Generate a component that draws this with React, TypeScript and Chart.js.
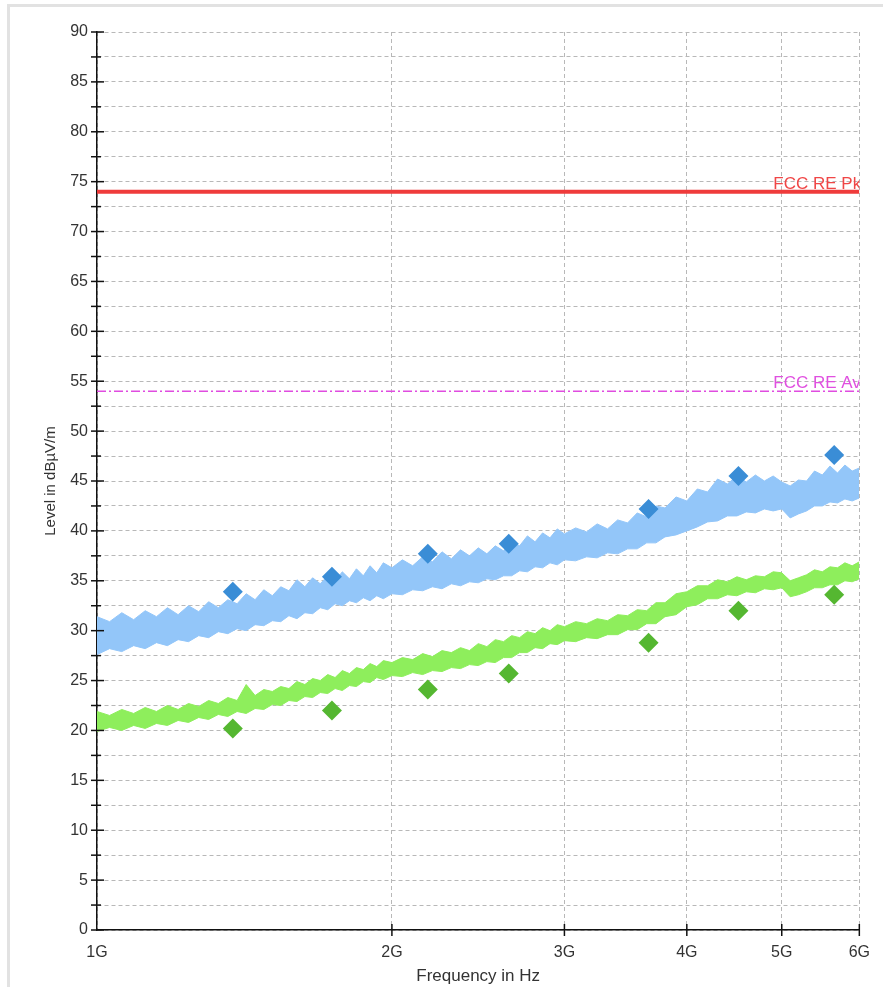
import React, { useEffect, useRef } from 'react';
import { Chart, registerables } from 'chart.js';

Chart.register(...registerables);

// Sweep frequencies (GHz)
const freqGHz = [
  1.00, 1.03, 1.06, 1.09, 1.12, 1.15, 1.18, 1.21, 1.24, 1.27,
  1.30, 1.33, 1.36, 1.39, 1.42, 1.45, 1.48, 1.51, 1.54, 1.57,
  1.60, 1.63, 1.66, 1.69, 1.72, 1.75, 1.78, 1.81, 1.84, 1.87,
  1.90, 1.93, 1.96, 2.00, 2.05, 2.10, 2.15, 2.20, 2.25, 2.30,
  2.35, 2.40, 2.45, 2.50, 2.55, 2.60, 2.65, 2.70, 2.75, 2.80,
  2.85, 2.90, 2.95, 3.00, 3.08, 3.16, 3.24, 3.32, 3.40, 3.48,
  3.56, 3.64, 3.72, 3.80, 3.90, 4.00, 4.10, 4.20, 4.30, 4.40,
  4.50, 4.60, 4.70, 4.80, 4.90, 5.00, 5.10, 5.20, 5.30, 5.40,
  5.50, 5.60, 5.70, 5.80, 5.90, 6.00,
];

// Peak trace (blue) envelope, dBµV/m
const blueUpper = [
  31.4, 30.9, 31.8, 31.1, 32.0, 31.4, 32.3, 31.6, 32.5, 31.9,
  32.9, 32.3, 33.1, 32.7, 33.7, 33.1, 34.1, 33.5, 34.4, 34.0,
  35.1, 34.4, 35.3, 34.7, 35.5, 35.0, 35.9, 35.2, 36.2, 35.5,
  36.5, 35.8, 36.8, 36.3, 37.1, 36.5, 37.4, 36.9, 37.9, 37.2,
  38.1, 37.5, 38.3, 37.7, 38.5, 38.0, 38.9, 38.5, 39.5, 38.9,
  39.8, 39.3, 40.2, 39.7, 40.3, 39.9, 40.7, 40.2, 41.1, 40.8,
  41.8, 41.4, 42.5, 42.3, 43.4, 43.0, 44.2, 43.9, 45.2, 44.7,
  45.5, 44.9, 45.6, 45.0, 45.5, 44.9, 44.5, 45.1, 45.0, 46.0,
  45.6, 46.5, 45.8, 46.6, 46.0, 46.3,
];
const blueLower = [
  27.6, 28.2, 27.9, 28.5, 28.2, 28.8, 28.5, 29.1, 28.9, 29.5,
  29.3, 29.9, 29.7, 30.2, 30.0, 30.6, 30.5, 31.0, 30.9, 31.5,
  31.2, 31.8, 31.7, 32.3, 32.1, 32.7, 32.5, 33.0, 32.8, 33.3,
  33.0, 33.5, 33.2, 33.7, 33.6, 34.1, 34.0, 34.4, 34.2, 34.7,
  34.5, 34.9, 34.8, 35.2, 35.1, 35.5, 35.5, 36.0, 35.9, 36.4,
  36.3, 36.8, 36.6, 37.1, 37.0, 37.4, 37.3, 37.8, 37.7, 38.2,
  38.2, 38.8, 38.8, 39.4, 39.6, 40.0, 40.4, 40.9, 41.0, 41.5,
  41.5, 41.9, 41.8, 42.2, 42.0, 42.2, 41.3, 41.7, 42.0, 42.5,
  42.5, 42.9, 42.8, 43.2, 43.0, 43.3,
];

// Average trace (green) envelope, dBµV/m
const greenUpper = [
  21.9, 21.5, 22.1, 21.7, 22.3, 21.9, 22.5, 22.1, 22.7, 22.4,
  23.0, 22.7, 23.3, 23.0, 24.6, 23.5, 24.1, 23.9, 24.4, 24.2,
  24.9, 24.6, 25.2, 25.0, 25.6, 25.3, 26.0, 25.7, 26.3, 26.1,
  26.7, 26.4, 27.0, 26.8, 27.3, 27.1, 27.7, 27.4, 28.0, 27.8,
  28.3, 28.0, 28.7, 28.4, 29.1, 28.9, 29.5, 29.3, 29.9, 29.7,
  30.3, 30.0, 30.6, 30.4, 30.9, 30.7, 31.2, 31.0, 31.6, 31.5,
  32.1, 32.0, 32.8, 32.8, 33.7, 33.9, 34.5, 34.5, 35.1, 34.9,
  35.4, 35.1, 35.5, 35.4, 35.9, 35.8, 35.0, 35.3, 35.6, 36.1,
  35.9, 36.4, 36.3, 36.8, 36.5, 36.9,
];
const greenLower = [
  19.9, 20.3, 20.0, 20.5, 20.2, 20.7, 20.5, 21.0, 20.8, 21.3,
  21.1, 21.6, 21.4, 21.9, 21.7, 22.2, 22.1, 22.6, 22.5, 23.0,
  22.9, 23.4, 23.3, 23.8, 23.7, 24.2, 24.0, 24.5, 24.4, 24.9,
  24.8, 25.3, 25.1, 25.5, 25.4, 25.8, 25.6, 26.0, 25.9, 26.3,
  26.2, 26.6, 26.5, 26.9, 26.8, 27.3, 27.3, 27.8, 27.8, 28.3,
  28.2, 28.7, 28.6, 29.0, 28.9, 29.3, 29.2, 29.6, 29.6, 30.1,
  30.1, 30.7, 30.7, 31.4, 31.6, 32.4, 32.6, 33.2, 33.2, 33.6,
  33.5, 33.9, 33.8, 34.2, 34.1, 34.3, 33.4, 33.6, 33.9, 34.3,
  34.3, 34.6, 34.6, 35.0, 34.9, 35.2,
];

// Final measurement points
const markerFreqGHz = [1.376, 1.737, 2.176, 2.632, 3.656, 4.516, 5.656];
const peakLevels = [33.9, 35.4, 37.7, 38.7, 42.2, 45.5, 47.6];
const avgLevels = [20.2, 22.0, 24.1, 25.7, 28.8, 32.0, 33.6];

// Limits
const limitPk = 74;
const limitAv = 54;
const limitPkLabel = 'FCC RE Pk';
const limitAvLabel = 'FCC RE Av';

// Axes
const xTickGHz = [1, 2, 3, 4, 5, 6];
const yMin = 0;
const yMax = 90;
const yStep = 2.5;

const FONT = '"Liberation Sans", Arial, Helvetica, sans-serif';
const BLUE_TRACE = '#93c6f9';
const GREEN_TRACE = '#8eee5c';
const BLUE_MARK = '#3a8dd6';
const GREEN_MARK = '#55b731';

const decorPlugin = {
  id: 'decor',
  beforeDraw(chart: any) {
    const { ctx, width, height } = chart;
    ctx.save();
    ctx.fillStyle = '#ffffff';
    ctx.fillRect(0, 0, width, height);
    ctx.strokeStyle = '#e2e2e2';
    ctx.lineWidth = 3;
    ctx.beginPath();
    ctx.moveTo(8.5, height);
    ctx.lineTo(8.5, 5.5);
    ctx.lineTo(width, 5.5);
    ctx.stroke();
    ctx.restore();
  },
  afterDraw(chart: any) {
    const { ctx, chartArea: a, scales } = chart;
    const xs = scales.x;
    const ys = scales.y;
    ctx.save();
    ctx.strokeStyle = '#111';
    ctx.lineWidth = 1.5;
    ys.ticks.forEach((t: any) => {
      const py = ys.getPixelForValue(t.value);
      const major = Math.abs(t.value % 5) < 1e-6;
      ctx.beginPath();
      ctx.moveTo(a.left - 6, py);
      ctx.lineTo(a.left + (major ? 7 : 4), py);
      ctx.stroke();
    });
    xs.ticks.forEach((t: any) => {
      if (t.value <= xs.min) return;
      const px = xs.getPixelForValue(t.value);
      ctx.beginPath();
      ctx.moveTo(px, a.bottom - 6);
      ctx.lineTo(px, a.bottom + 6);
      ctx.stroke();
    });
    ctx.beginPath();
    ctx.rect(a.left, a.top - 30, a.right - a.left, a.bottom - a.top + 30);
    ctx.clip();
    ctx.font = '17px ' + FONT;
    ctx.textAlign = 'left';
    ctx.textBaseline = 'alphabetic';
    ctx.fillStyle = '#f04646';
    ctx.fillText(limitPkLabel, a.right - 86, ys.getPixelForValue(limitPk) - 3);
    ctx.fillStyle = '#e050e0';
    ctx.fillText(limitAvLabel, a.right - 86, ys.getPixelForValue(limitAv) - 3);
    ctx.restore();
  },
};

export default function App() {
  const ref = useRef<HTMLCanvasElement>(null);

  useEffect(() => {
    if (!ref.current) return;
    const pts = (ys: number[]) => freqGHz.map((f, i) => ({ x: f * 1e9, y: ys[i] }));
    const marks = (ys: number[]) => markerFreqGHz.map((f, i) => ({ x: f * 1e9, y: ys[i] }));
    const span = (v: number) => [
      { x: xTickGHz[0] * 1e9, y: v },
      { x: xTickGHz[xTickGHz.length - 1] * 1e9, y: v },
    ];

    const chart = new Chart(ref.current, {
      type: 'line',
      data: {
        datasets: [
          {
            label: 'Peak markers',
            data: marks(peakLevels),
            showLine: false,
            pointStyle: 'rectRot',
            pointRadius: 10,
            backgroundColor: BLUE_MARK,
            borderColor: BLUE_MARK,
            borderWidth: 0,
          },
          {
            label: 'Average markers',
            data: marks(avgLevels),
            showLine: false,
            pointStyle: 'rectRot',
            pointRadius: 10,
            backgroundColor: GREEN_MARK,
            borderColor: GREEN_MARK,
            borderWidth: 0,
          },
          {
            label: limitPkLabel,
            data: span(limitPk),
            borderColor: '#ef3b3b',
            borderWidth: 4,
            pointRadius: 0,
          },
          {
            label: limitAvLabel,
            data: span(limitAv),
            borderColor: '#e04ce0',
            borderWidth: 1.5,
            borderDash: [9, 3, 2, 3],
            pointRadius: 0,
          },
          {
            label: 'Peak trace low',
            data: pts(blueLower),
            borderColor: BLUE_TRACE,
            borderWidth: 1,
            pointRadius: 0,
            fill: false,
          },
          {
            label: 'Peak trace high',
            data: pts(blueUpper),
            borderColor: BLUE_TRACE,
            backgroundColor: BLUE_TRACE,
            borderWidth: 1,
            pointRadius: 0,
            fill: '-1',
          },
          {
            label: 'Average trace low',
            data: pts(greenLower),
            borderColor: GREEN_TRACE,
            borderWidth: 1,
            pointRadius: 0,
            fill: false,
          },
          {
            label: 'Average trace high',
            data: pts(greenUpper),
            borderColor: GREEN_TRACE,
            backgroundColor: GREEN_TRACE,
            borderWidth: 1,
            pointRadius: 0,
            fill: '-1',
          },
        ],
      },
      options: {
        responsive: false,
        maintainAspectRatio: false,
        devicePixelRatio: 1,
        animation: false,
        layout: { padding: { left: 0, top: 32, right: 22, bottom: 0 } },
        elements: { line: { tension: 0 } },
        plugins: {
          legend: { display: false },
          tooltip: { enabled: false },
        },
        scales: {
          x: {
            type: 'logarithmic',
            min: xTickGHz[0] * 1e9,
            max: xTickGHz[xTickGHz.length - 1] * 1e9,
            afterFit: (s: any) => {
              s.height = 57;
            },
            afterBuildTicks: (s: any) => {
              s.ticks = xTickGHz.map((g) => ({ value: g * 1e9 }));
            },
            ticks: {
              autoSkip: false,
              maxRotation: 0,
              minRotation: 0,
              padding: 13,
              color: '#333',
              font: { size: 16, family: FONT },
              callback: (v: any) => Math.round(Number(v) / 1e9) + 'G',
            },
            grid: { color: '#b8b8b8', lineWidth: 1, drawTicks: false },
            border: { display: true, color: '#111', width: 1.5, dash: [4, 3] },
            title: {
              display: true,
              text: 'Frequency in Hz',
              color: '#333',
              font: { size: 17, family: FONT },
              padding: { top: 0, bottom: 0 },
            },
          },
          y: {
            type: 'linear',
            min: yMin,
            max: yMax,
            afterFit: (s: any) => {
              s.width = 97;
            },
            ticks: {
              stepSize: yStep,
              autoSkip: false,
              padding: 9,
              color: '#333',
              font: { size: 16, family: FONT },
              callback: (v: any) => (Math.abs(Number(v) % 5) < 1e-6 ? String(v) : ''),
            },
            grid: { color: '#b8b8b8', lineWidth: 1, drawTicks: false },
            border: { display: true, color: '#111', width: 1.5, dash: [4, 3] },
            title: {
              display: true,
              text: 'Level in dBµV/m',
              color: '#333',
              font: { size: 15, family: FONT },
              padding: { top: 41.5, bottom: 0 },
            },
          },
        },
      } as any,
      plugins: [decorPlugin],
    });

    return () => chart.destroy();
  }, []);

  return (
    <div style={{ position: 'absolute', left: 0, top: 0, width: 883, height: 987 }}>
      <canvas ref={ref} width={883} height={987} style={{ display: 'block', width: 883, height: 987 }} />
    </div>
  );
}
